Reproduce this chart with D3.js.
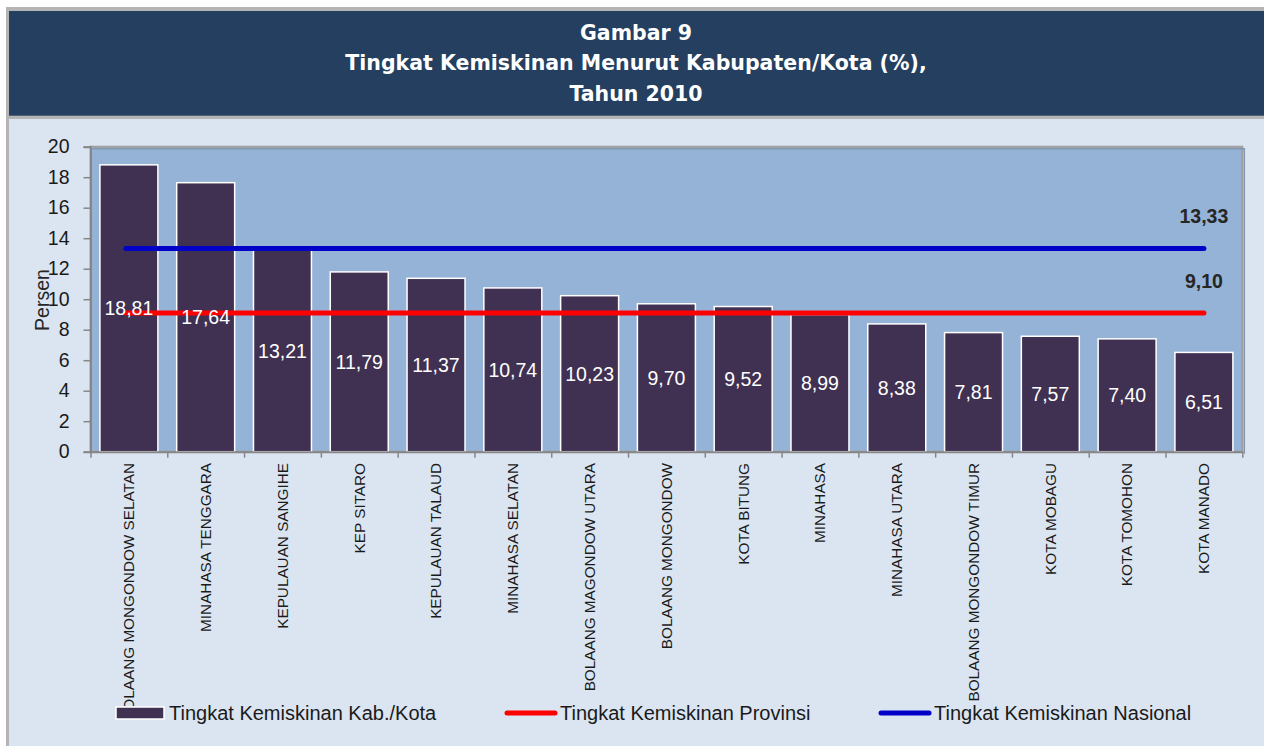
<!DOCTYPE html>
<html>
<head>
<meta charset="utf-8">
<title>Gambar 9 - Tingkat Kemiskinan Menurut Kabupaten/Kota</title>
<script src="https://cdnjs.cloudflare.com/ajax/libs/d3/7.8.5/d3.min.js"></script>
<style>
  body { margin: 0; background: #fff; }
  svg { display: block; font-family: "Liberation Sans", Arial, sans-serif; }
</style>
</head>
<body>
<svg id="chart"></svg>
<script>
    // Data
    var kabKota = ["BOLAANG MONGONDOW SELATAN", "MINAHASA TENGGARA", "KEPULAUAN SANGIHE", "KEP SITARO",
        "KEPULAUAN TALAUD", "MINAHASA SELATAN", "BOLAANG MAGONDOW UTARA", "BOLAANG MONGONDOW",
        "KOTA BITUNG", "MINAHASA", "MINAHASA UTARA", "BOLAANG MONGONDOW TIMUR",
        "KOTA MOBAGU", "KOTA TOMOHON", "KOTA MANADO"];
    var tingkat = [18.81, 17.64, 13.21, 11.79, 11.37, 10.74, 10.23, 9.70, 9.52, 8.99, 8.38, 7.81, 7.57, 7.40, 6.51];
    var provinsi = 9.10;
    var nasional = 13.33;
    var yTicks = [0, 2, 4, 6, 8, 10, 12, 14, 16, 18, 20];
    var titleLines = ["Gambar 9", "Tingkat Kemiskinan Menurut Kabupaten/Kota (%),", "Tahun 2010"];
    var legendNames = ["Tingkat Kemiskinan Kab./Kota", "Tingkat Kemiskinan Provinsi", "Tingkat Kemiskinan Nasional"];

    var width = 1264, height = 746;
    var plotLeft = 90.5, plotRight = 1242.3, plotTop = 146.7, plotBottom = 451.7;

    var idFmt = d3.formatLocale({ decimal: ",", thousands: ".", grouping: [3], currency: ["Rp", ""] }).format(".2f");

    var svg = d3.select("#chart").attr("width", width).attr("height", height);

    // frame + title band
    svg.append("rect").attr("x", 6).attr("y", 7).attr("width", width).attr("height", height).attr("fill", "#b4b4b4");
    svg.append("rect").attr("x", 9).attr("y", 119).attr("width", width).attr("height", height).attr("fill", "#dbe5f1");
    svg.append("rect").attr("x", 9).attr("y", 11).attr("width", width).attr("height", 104.7).attr("fill", "#243f60");

    svg.append("g").selectAll("text")
        .data(titleLines)
        .enter().append("text")
        .attr("x", 636)
        .attr("y", function (d, i) { return 39.5 + i * 30.8; })
        .attr("text-anchor", "middle")
        .attr("fill", "#fff")
        .style("font-family", "'DejaVu Sans', sans-serif")
        .style("font-weight", "bold")
        .style("font-size", "20.5px")
        .text(function (d) { return d; });

    // scales
    var x = d3.scaleBand().domain(kabKota).range([plotLeft, plotRight]).paddingInner(0.245).paddingOuter(0.1225);
    var xEdge = d3.scaleLinear().domain([0, kabKota.length]).range([plotLeft, plotRight]);
    var y = d3.scaleLinear().domain([0, 20]).range([plotBottom, plotTop]);

    // plot area
    svg.append("rect")
        .attr("x", plotLeft).attr("y", plotTop)
        .attr("width", plotRight - plotLeft).attr("height", plotBottom - plotTop)
        .attr("fill", "#95b3d7")
        .attr("stroke", "#a0a0a0").attr("stroke-width", 2);
    svg.append("path")
        .attr("d", "M" + (plotLeft + 2) + "," + (plotTop + 2) + "H" + (plotRight + 2) + "V" + (plotBottom + 2))
        .attr("fill", "none").attr("stroke", "#8496ab").attr("stroke-width", 1.5);

    // bars
    svg.append("g").selectAll("rect")
        .data(tingkat)
        .enter().append("rect")
        .attr("x", function (d, i) { return x(kabKota[i]); })
        .attr("y", function (d) { return y(d); })
        .attr("width", x.bandwidth())
        .attr("height", function (d) { return y(0) - y(d); })
        .attr("fill", "#403152")
        .attr("stroke", "#fff").attr("stroke-width", 1.5);

    // reference lines
    var line = d3.line().x(function (d) { return d[0]; }).y(function (d) { return d[1]; });
    var xFirst = x(kabKota[0]) + x.bandwidth() / 2 - 3;
    var xLast = x(kabKota[kabKota.length - 1]) + x.bandwidth() / 2;
    [[nasional, "#0000c8"], [provinsi, "#ff0000"]].forEach(function (r) {
        svg.append("path")
            .attr("d", line([[xFirst, y(r[0])], [xLast, y(r[0])]]))
            .attr("stroke", r[1]).attr("stroke-width", 5).attr("stroke-linecap", "round").attr("fill", "none");
        svg.append("text")
            .attr("x", xLast)
            .attr("y", y(r[0]) - 32)
            .attr("dy", "0.35em")
            .attr("text-anchor", "middle")
            .attr("fill", "#262626")
            .style("font-weight", "bold")
            .style("font-size", "19.5px")
            .text(idFmt(r[0]));
    });

    // value labels in bar centres
    svg.append("g").selectAll("text")
        .data(tingkat)
        .enter().append("text")
        .attr("x", function (d, i) { return x(kabKota[i]) + x.bandwidth() / 2; })
        .attr("y", function (d) { return y(d / 2); })
        .attr("dy", "0.35em")
        .attr("text-anchor", "middle")
        .attr("fill", "#fff")
        .style("font-size", "19.5px")
        .text(function (d) { return idFmt(d); });

    // y axis
    var yAxis = svg.append("g")
        .attr("transform", "translate(" + plotLeft + ",0)")
        .call(d3.axisLeft(y).tickValues(yTicks).tickSize(7).tickPadding(14));
    yAxis.select(".domain").attr("stroke", "#868686").attr("stroke-width", 2);
    yAxis.selectAll(".tick line").attr("stroke", "#868686").attr("stroke-width", 1.5);
    yAxis.selectAll(".tick text").attr("fill", "#1a1a1a").style("font-size", "19.5px").style("font-family", "'Liberation Sans', Arial, sans-serif");

    svg.append("text")
        .attr("transform", "translate(49,300)rotate(-90)")
        .attr("text-anchor", "middle")
        .attr("fill", "#262626")
        .style("font-size", "19.5px")
        .text("Persen");

    // x axis: ticks on band edges, names rotated
    var xAxis = svg.append("g")
        .attr("transform", "translate(0," + plotBottom + ")")
        .call(d3.axisBottom(xEdge).tickValues(d3.range(kabKota.length + 1)).tickFormat("").tickSize(6).tickSizeOuter(0));
    xAxis.select(".domain").attr("stroke", "#868686").attr("stroke-width", 2);
    xAxis.selectAll(".tick line").attr("stroke", "#868686").attr("stroke-width", 1.5);

    svg.append("clipPath").attr("id", "labelClip")
        .append("rect").attr("x", 0).attr("y", 455).attr("width", width).attr("height", 251);

    svg.append("g").attr("clip-path", "url(#labelClip)")
        .selectAll("text")
        .data(kabKota)
        .enter().append("text")
        .attr("transform", function (d) {
            return "translate(" + (x(d) + x.bandwidth() / 2) + ",463)rotate(-90)";
        })
        .attr("dy", "0.35em")
        .attr("text-anchor", "end")
        .attr("fill", "#1a1a1a")
        .style("font-size", "15.3px")
        .text(function (d) { return d; });

    // legend
    var legendX = [116, 505, 879];
    var lg = svg.append("g");
    lg.append("rect").attr("x", legendX[0]).attr("y", 707).attr("width", 48).attr("height", 12)
        .attr("fill", "#403152").attr("stroke", "#fff").attr("stroke-width", 1.5);
    [["#ff0000", 1], ["#0000c8", 2]].forEach(function (s) {
        lg.append("path")
            .attr("d", line([[legendX[s[1]] + 2, 713], [legendX[s[1]] + 50, 713]]))
            .attr("stroke", s[0]).attr("stroke-width", 5).attr("stroke-linecap", "round");
    });
    lg.selectAll("text")
        .data(legendNames)
        .enter().append("text")
        .attr("x", function (d, i) { return legendX[i] + (i === 0 ? 53 : 55); })
        .attr("y", 713)
        .attr("dy", "0.35em")
        .attr("fill", "#1a1a1a")
        .style("font-size", "20px")
        .text(function (d) { return d; });
</script>
</body>
</html>
